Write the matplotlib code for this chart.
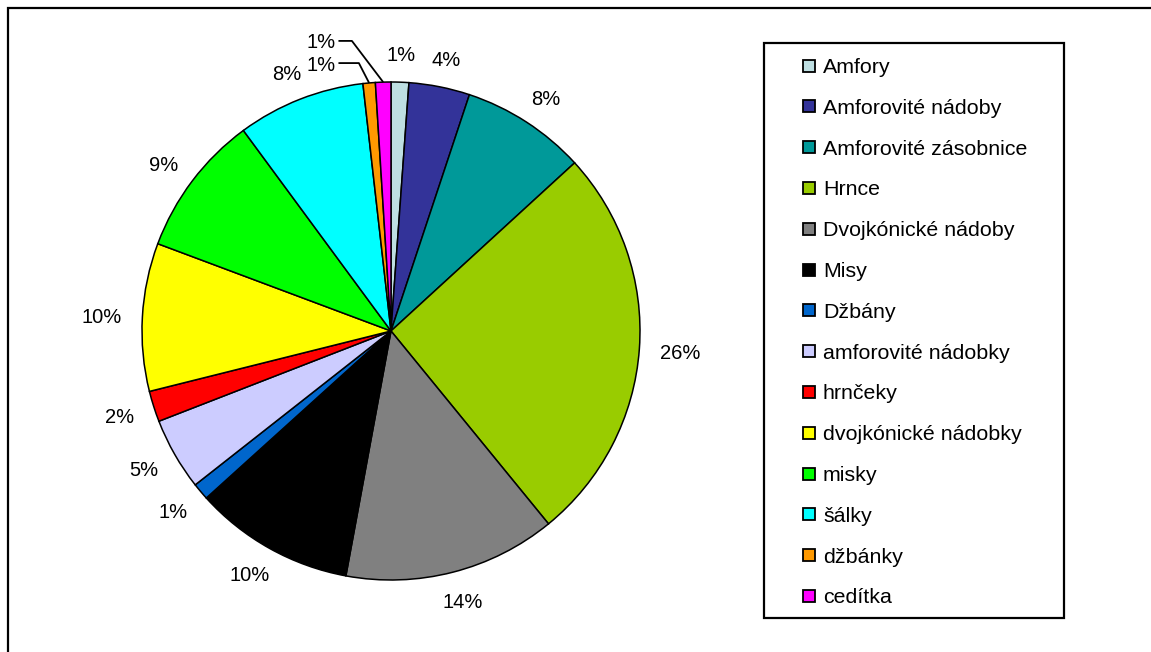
import matplotlib
matplotlib.use("Agg")
import matplotlib.pyplot as plt
from matplotlib.patches import Rectangle
import numpy as np

plt.rcParams['font.family'] = ['Liberation Sans', 'DejaVu Sans']

categories = ["Amfory", "Amforovité nádoby", "Amforovité zásobnice", "Hrnce",
              "Dvojkónické nádoby", "Misy", "Džbány", "amforovité nádobky",
              "hrnčeky", "dvojkónické nádobky", "misky", "šálky", "džbánky", "cedítka"]
values = [1.15, 3.95, 8.1, 25.9, 13.8, 10.4, 1.1, 4.7, 2.0, 9.6, 9.2, 8.3, 0.8, 1.0]
colors = ["#BEDFE2", "#333399", "#009999", "#99CC00", "#808080", "#000000", "#0066CC",
          "#CCCCFF", "#FF0000", "#FFFF00", "#00FF00", "#00FFFF", "#FF9900", "#FF00FF"]

W, H = 1151, 652
CX, CY, R = 391, 331, 249  # pie centre / radius in pixels
FS = 14.5
FS_LEG = 15.4

fig = plt.figure(figsize=(W / 100, H / 100), dpi=100)
ax = fig.add_axes([0, 0, 1, 1])

wedges, _ = ax.pie(values, colors=colors, startangle=90, counterclock=False, radius=1,
                   center=(0, 0), frame=True,
                   wedgeprops=dict(edgecolor='black', linewidth=1.1))
ax.set_xlim(-CX / R, (W - CX) / R)
ax.set_ylim((CY - H) / R, CY / R)
ax.axis('off')

# leader-line labels (indices 12, 13): text right edge x, text y, knee x
leader = {12: (-0.221, 1.076, -0.129), 13: (-0.221, 1.165, -0.157)}

for i, (w, v) in enumerate(zip(wedges, values)):
    ang = np.deg2rad((w.theta1 + w.theta2) / 2)
    txt = f"{round(v)}%"
    if i in leader:
        tx, ty, kx = leader[i]
        ex, ey = np.cos(ang), np.sin(ang)
        ax.plot([tx + 0.01, kx, ex], [ty, ty, ey], color='black', lw=1.3,
                solid_capstyle='butt')
        ax.text(tx, ty, txt, ha='right', va='center_baseline', fontsize=FS,
                color='black')
    else:
        r = 1.085
        tw = ((len(txt) - 1) * 11 + 18) / R   # approx text box width (data units)
        th = 16 / R
        x = r * np.cos(ang) + tw / 2 * np.cos(ang)
        y = r * np.sin(ang) + th / 2 * np.sin(ang)
        ax.text(x, y, txt, ha='center', va='center_baseline', fontsize=FS,
                color='black')

def fx(px):
    return px / W

def fy(py):
    return 1 - py / H

# outer frame
fig.add_artist(Rectangle((fx(8), fy(700)), fx(1200) - fx(8), fy(8) - fy(700),
                         transform=fig.transFigure, fill=False, edgecolor='black',
                         linewidth=1.6))

# legend box
fig.add_artist(Rectangle((fx(764), fy(618)), fx(1064) - fx(764), fy(43) - fy(618),
                         transform=fig.transFigure, fill=False, edgecolor='black',
                         linewidth=1.6))
row0, step = 65.5, 40.8
for i, (lab, c) in enumerate(zip(categories, colors)):
    yc = row0 + i * step
    fig.add_artist(Rectangle((fx(803), fy(yc + 6)), fx(12), 12 / H,
                             transform=fig.transFigure, facecolor=c,
                             edgecolor='black', linewidth=1.3))
    fig.text(fx(823), fy(yc), lab, ha='left', va='center_baseline', fontsize=FS_LEG,
             color='black')

fig.savefig("out.png", dpi=100)
